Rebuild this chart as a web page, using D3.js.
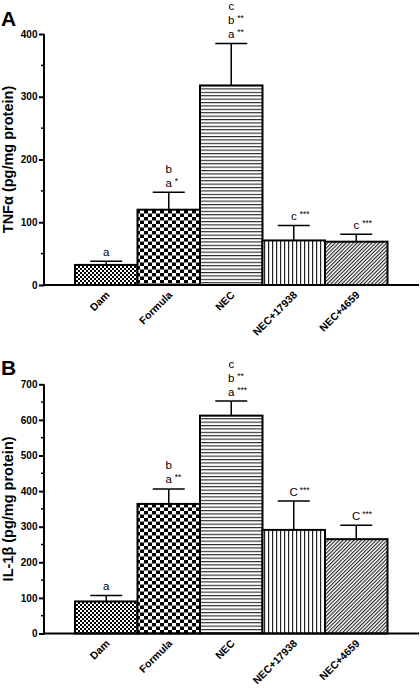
<!DOCTYPE html>
<html><head><meta charset="utf-8">
<script src="https://cdn.jsdelivr.net/npm/d3@7"></script>
<style>
body{margin:0;background:#fff;}
svg{display:block;font-family:"Liberation Sans",Arial,sans-serif;-webkit-font-smoothing:antialiased;}
</style></head>
<body><svg id="c" width="420" height="688"></svg>
<script>
const categories = ["Dam","Formula","NEC","NEC+17938","NEC+4659"];
const tnfMean = [32, 120, 318, 71, 69];
const tnfErr  = [38, 148, 385, 95, 81];
const il1Mean = [90, 364, 612, 291, 265];
const il1Err  = [107, 406, 653, 372, 304];
const tnfTicks = [0,100,200,300,400];
const il1Ticks = [0,100,200,300,400,500,600,700];
const tnfLabels = [[["a",""]],[["b",""],["a","*"]],[["c",""],["b","**"],["a","**"]],[["c","***"]],[["c","***"]]];
const il1Labels = [[["a",""]],[["b",""],["a","**"]],[["c",""],["b","**"],["a","***"]],[["C","***"]],[["C","***"]]];
const patternIds = ["pDam","pFormula","pNEC","pN17938","pN4659"];

const svg = d3.select("#c");
const defs = svg.append("defs");
let p = defs.append("pattern").attr("id","pDam").attr("patternUnits","userSpaceOnUse").attr("width",4).attr("height",4);
p.append("rect").attr("width",4).attr("height",4).attr("fill","#fff");
p.append("rect").attr("width",2).attr("height",2).attr("fill","#000");
p.append("rect").attr("x",2).attr("y",2).attr("width",2).attr("height",2).attr("fill","#000");
p = defs.append("pattern").attr("id","pFormula").attr("patternUnits","userSpaceOnUse").attr("width",8).attr("height",7);
p.append("rect").attr("width",8).attr("height",7).attr("fill","#fff");
p.append("rect").attr("width",4).attr("height",3.5).attr("fill","#000");
p.append("rect").attr("x",4).attr("y",3.5).attr("width",4).attr("height",3.5).attr("fill","#000");
p = defs.append("pattern").attr("id","pNEC").attr("patternUnits","userSpaceOnUse").attr("width",10).attr("height",3.4);
p.append("rect").attr("width",10).attr("height",3.4).attr("fill","#fff");
p.append("rect").attr("width",10).attr("height",1.1).attr("fill","#222");
p = defs.append("pattern").attr("id","pN17938").attr("patternUnits","userSpaceOnUse").attr("width",4).attr("height",10);
p.append("rect").attr("width",4).attr("height",10).attr("fill","#fff");
p.append("rect").attr("width",1.2).attr("height",10).attr("fill","#222");
p = defs.append("pattern").attr("id","pN4659").attr("patternUnits","userSpaceOnUse").attr("width",2.6).attr("height",10).attr("patternTransform","rotate(45)");
p.append("rect").attr("width",2.6).attr("height",10).attr("fill","#fff");
p.append("rect").attr("width",1.1).attr("height",10).attr("fill","#222");

function panel(cfg){
  const g = svg.append("g");
  const x = d3.scaleBand().domain(categories).range([75,387.5]).padding(0);
  const y = d3.scaleLinear().domain([0,cfg.max]).range([cfg.y0,cfg.y1]);
  const bw = x.bandwidth();
  g.selectAll("rect.bar").data(cfg.mean).join("rect")
    .attr("x",(d,i)=>x(categories[i])).attr("y",d=>y(d))
    .attr("width",bw).attr("height",d=>y(0)-y(d))
    .attr("fill",(d,i)=>`url(#${patternIds[i]})`)
    .attr("stroke","#000").attr("stroke-width",2);
  cfg.err.forEach((e,i)=>{
    const cx = x(categories[i])+bw/2;
    g.append("line").attr("x1",cx).attr("x2",cx).attr("y1",y(cfg.mean[i])).attr("y2",y(e)).attr("stroke","#000").attr("stroke-width",1.5);
    g.append("line").attr("x1",cx-16).attr("x2",cx+16).attr("y1",y(e)).attr("y2",y(e)).attr("stroke","#000").attr("stroke-width",1.5);
    const lines = cfg.labels[i];
    const n = lines.length;
    lines.forEach((l,j)=>{
      const by = y(e) - 5.5 - (n-1-j)*14;
      g.append("text").attr("x",cx).attr("y",by).attr("text-anchor","middle")
        .attr("font-size",11.5).attr("fill","#000").text(l[0]);
      if(l[1]) g.append("text").attr("x",cx+6).attr("y",by-3).attr("font-size",8.5).attr("fill","#000").text(l[1]);
    });
  });
  const ya = d3.axisLeft(y).tickValues(cfg.ticks).tickSize(5).tickPadding(1.5).tickFormat(d3.format("d"));
  const ag = g.append("g").attr("transform","translate(44,0)").call(ya);
  ag.select(".domain").attr("stroke-width",2).attr("d",`M0,${cfg.y0+1}V${cfg.y1}`);
  ag.selectAll(".tick line").attr("stroke-width",2);
  ag.selectAll(".tick text").attr("font-size",10).attr("font-weight","bold").attr("font-family","Liberation Sans, Arial, sans-serif").attr("fill","#000");
  const minor = d3.range(50,cfg.max,100);
  g.selectAll("line.minor").data(minor).join("line")
    .attr("x1",41).attr("x2",44).attr("y1",d=>y(d)).attr("y2",d=>y(d)).attr("stroke","#000").attr("stroke-width",1.5);
  g.append("line").attr("x1",43).attr("x2",419).attr("y1",cfg.y0).attr("y2",cfg.y0).attr("stroke","#000").attr("stroke-width",2);
  categories.forEach((c,i)=>{
    const cx = x(c)+bw/2 + 1.5;
    const ty = cfg.y0 + 8;
    g.append("g").attr("transform",`translate(${cx},${ty})`)
     .append("g").attr("transform","rotate(-45)")
     .append("text").attr("x",0).attr("y",0).attr("dy","0.35em")
      .attr("text-anchor","end")
      .attr("font-size",10.5).attr("font-weight","bold").attr("fill","#000").text(c);
  });
  g.append("text").attr("transform",`translate(13,${(cfg.y0+cfg.y1)/2}) rotate(-90)`)
    .attr("text-anchor","middle").attr("font-size",14.5).attr("font-weight","bold").text(cfg.title);
  g.append("text").attr("x",1).attr("y",cfg.letterY).attr("font-size",21).attr("font-weight","bold").text(cfg.letter);
}

panel({mean:tnfMean, err:tnfErr, labels:tnfLabels, ticks:tnfTicks, max:400, y0:285, y1:34, title:"TNFα (pg/mg protein)", letter:"A", letterY:26});
panel({mean:il1Mean, err:il1Err, labels:il1Labels, ticks:il1Ticks, max:700, y0:633.5, y1:384.3, title:"IL-1β (pg/mg protein)", letter:"B", letterY:375});
</script></body></html>
